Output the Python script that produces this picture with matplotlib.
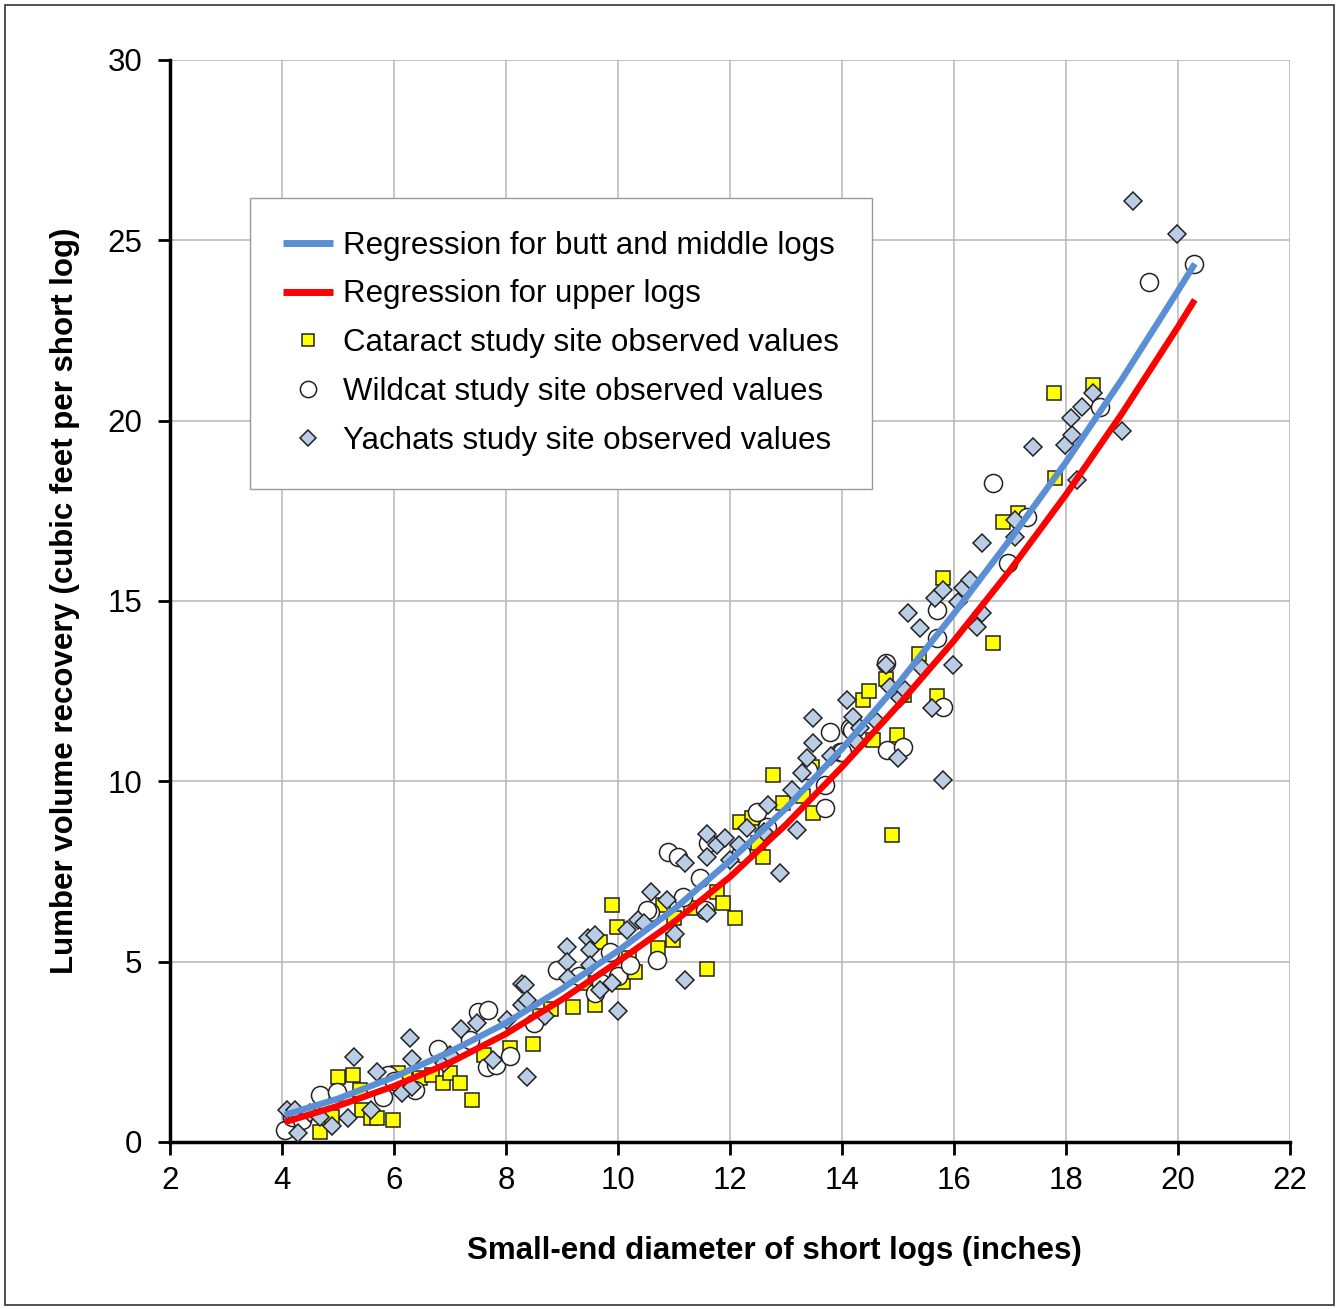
import matplotlib
matplotlib.use("Agg")
import matplotlib.pyplot as plt
from matplotlib.patches import Rectangle

# ── Data ──────────────────────────────────────────────────────────────────────
# regression curves
curve_x = [4.05, 5, 6, 7, 8, 9, 10, 11, 12, 13, 14, 15, 16, 17, 18, 19, 20, 20.3]
butt_middle_y = [0.75, 1.2, 1.8, 2.5, 3.3, 4.25, 5.3, 6.45, 7.8, 9.25, 10.9,
                 12.7, 14.65, 16.7, 18.85, 21.15, 23.6, 24.35]
upper_y = [0.55, 1.0, 1.55, 2.2, 3.0, 3.95, 5.0, 6.1, 7.35, 8.8, 10.4,
           12.1, 13.9, 15.85, 17.95, 20.2, 22.6, 23.35]

# Cataract study site (squares)
cataract_x = [4.89, 4.68, 5.0, 5.27, 5.39, 5.43, 5.59, 5.70, 5.98, 6.07, 6.2,
              6.46, 6.68, 6.88, 7.0, 7.18, 7.39, 7.6, 8.07, 8.48, 8.6, 8.8,
              9.2, 9.4, 9.59, 9.68, 9.89, 9.98, 10.09, 10.2, 10.3, 10.71, 10.8,
              10.98, 11.0, 11.3, 11.59, 11.77, 11.88, 12.09, 12.18, 12.39,
              12.5, 12.59, 12.77, 12.95, 13.3, 13.46, 13.48, 14.38, 14.48,
              14.55, 14.79, 14.89, 14.98, 15.1, 15.38, 15.7, 15.8, 16.7,
              16.88, 17.14, 17.8, 17.79, 18.48]
cataract_y = [0.69, 0.28, 1.8, 1.86, 1.44, 0.89, 0.67, 0.67, 0.61, 1.91, 1.75,
              1.77, 1.86, 1.64, 1.91, 1.64, 1.16, 2.4, 2.61, 2.72, 3.5, 3.7,
              3.74, 4.4, 3.8, 5.54, 6.57, 5.96, 4.44, 5.1, 4.7, 5.38, 6.57,
              5.6, 6.2, 6.5, 4.8, 6.93, 6.63, 6.21, 8.87, 8.98,
              8.3, 7.9, 10.17, 9.4, 9.6, 10.4, 9.12, 12.25, 12.5,
              11.15, 12.84, 8.52, 11.28, 12.4, 13.53, 12.36, 15.64, 13.83,
              17.19, 17.44, 18.41, 20.77, 20.99]

# Wildcat study site (circles)
wildcat_x = [4.05, 4.18, 4.36, 4.68, 4.98, 5.80, 5.89, 6.0, 6.38, 6.79, 7.36,
             7.5, 7.68, 7.66, 7.82, 8.07, 8.5, 8.91, 9.3, 9.59, 9.7, 9.86,
             10.0, 10.21, 10.7, 10.57, 10.52, 10.89, 11.07, 11.46, 11.16,
             11.55, 11.61, 12.2, 12.48, 12.66, 13.4, 13.7, 13.79, 14.14,
             13.96, 13.7, 14.18, 14.0, 14.79, 14.8, 15.09, 15.8, 15.7, 15.7,
             16.7, 16.96, 17.3, 18.61, 19.48, 20.29]
wildcat_y = [0.33, 0.69, 0.61, 1.3, 1.39, 1.25, 1.86, 1.7, 1.45, 2.58, 2.83,
             3.6, 3.66, 2.08, 2.13, 2.38, 3.3, 4.77, 4.6, 4.13, 4.4, 5.27,
             4.6, 4.91, 5.05, 6.38, 6.43, 8.04, 7.9, 7.32, 6.79,
             6.43, 8.29, 8.0, 9.15, 8.73, 10.3, 9.26, 11.37, 11.48,
             10.81, 9.9, 11.42, 10.81, 13.28, 10.87, 10.95, 12.06, 14.75, 13.97,
             18.27, 16.05, 17.33, 20.38, 23.84, 24.34]

# Yachats study site (diamonds)
yachats_x = [4.09, 4.23, 4.29, 4.5, 4.68, 4.89, 5.18, 5.29, 5.59, 5.70, 6.14,
             6.29, 6.32, 6.32, 6.9, 7.0, 7.2, 7.48, 7.77, 8.02, 8.29, 8.29,
             8.38, 8.34, 8.38, 8.7, 9.09, 9.46, 9.59, 9.5, 9.09, 9.11, 9.5,
             9.68, 9.89, 10.0, 10.16, 10.36, 10.46, 10.59, 10.88, 11.02, 11.2,
             11.2, 11.59, 11.77, 11.91, 11.59, 11.59, 12.0, 12.16, 12.3, 12.6,
             12.68, 12.89, 13.2, 13.11, 13.29, 13.38, 13.48, 13.48, 13.8,
             14.09, 14.2, 14.32, 14.29, 14.63, 14.79, 14.86, 15.04, 15.0,
             15.13, 15.43, 15.61, 15.8, 15.98, 15.18, 15.39, 15.66, 15.8,
             16.07, 16.16, 16.29, 16.41, 16.5, 16.5, 17.09, 17.09, 17.41,
             17.98, 18.11, 18.09, 18.29, 18.48, 18.2, 19.0, 19.2, 19.98]
yachats_y = [0.89, 0.89, 0.25, 0.8, 0.69, 0.44, 0.67, 2.36, 0.89, 1.94, 1.36,
             2.88, 2.3, 1.53, 2.2, 2.4, 3.13, 3.3, 2.27, 3.38, 3.8, 4.38,
             1.8, 4.35, 3.94, 3.5, 5.41, 5.66, 5.74, 5.32, 4.99, 4.55, 4.91,
             4.21, 4.41, 3.62, 5.88, 6.15, 6.07, 6.93, 6.71, 5.76, 4.49,
             7.73, 8.55, 8.23, 8.43, 7.9, 6.35, 7.82, 8.23, 8.7, 8.6,
             9.33, 7.46, 8.65, 9.76, 10.23, 10.65, 11.06, 11.75, 10.7,
             12.25, 11.78, 11.48, 11.06, 11.64, 13.22, 12.61, 12.31, 10.65,
             12.53, 13.14, 12.03, 10.04, 13.22, 14.67, 14.25, 15.08, 15.3,
             14.97, 15.36, 15.58, 14.28, 14.67, 16.6, 17.24, 16.77, 19.27,
             19.32, 19.6, 20.07, 20.38, 20.77, 18.35, 19.71, 26.1, 25.17]

x_ticks = [2, 4, 6, 8, 10, 12, 14, 16, 18, 20, 22]
y_ticks = [0, 5, 10, 15, 20, 25, 30]

# ── Style ─────────────────────────────────────────────────────────────────────
plt.rcParams["font.family"] = ["Liberation Sans", "DejaVu Sans"]
FS = 22.5
BLUE = "#5B8FD5"
RED = "#FF0000"

fig = plt.figure(figsize=(13.39, 13.09), dpi=100)
ax = fig.add_axes([0.127, 0.1276, 0.8364, 0.8266])

ax.plot(cataract_x, cataract_y, "s", ms=10, mfc="#FFFF00", mec="#222222",
        mew=1.1, ls="none", zorder=3)
ax.plot(wildcat_x, wildcat_y, "o", ms=13, mfc="white", mec="#222222",
        mew=1.1, ls="none", zorder=3)
ax.plot(yachats_x, yachats_y, "D", ms=9.5, mfc="#B9CDE5", mec="#222222",
        mew=1.1, ls="none", zorder=3)
ax.plot(curve_x, upper_y, color=RED, lw=4.6, zorder=4, solid_capstyle="butt")
ax.plot(curve_x, butt_middle_y, color=BLUE, lw=4.6, zorder=5,
        solid_capstyle="butt")

ax.set_xlim(2, 22)
ax.set_ylim(0, 30)
ax.set_xticks(x_ticks)
ax.set_yticks(y_ticks)
ax.tick_params(labelsize=FS, width=2, length=9, direction="out")
ax.tick_params(axis="x", pad=8)
ax.tick_params(axis="y", pad=11)
ax.grid(True, color="#BBBBBB", lw=1.2)
ax.set_axisbelow(True)
for s in ["top", "right"]:
    ax.spines[s].set_visible(False)
for s in ["left", "bottom"]:
    ax.spines[s].set_linewidth(2.5)

ax.set_xlabel("Small-end diameter of short logs (inches)", fontsize=FS,
              fontweight="bold", labelpad=29)
ax.xaxis.label.set_x(0.54)
ax.set_ylabel("Lumber volume recovery (cubic feet per short log)",
              fontsize=FS, fontweight="bold", labelpad=20)

# legend: lines first, then the three sites
handles = [ax.lines[4], ax.lines[3], ax.lines[0], ax.lines[1], ax.lines[2]]
labels = ["Regression for butt and middle logs", "Regression for upper logs",
          "Cataract study site observed values",
          "Wildcat study site observed values",
          "Yachats study site observed values"]
leg = ax.legend(handles, labels, loc="upper left",
                bbox_to_anchor=(0.0714, 0.8725), fontsize=FS, frameon=True,
                fancybox=False, edgecolor="#999999", framealpha=1,
                handlelength=1.6, handletextpad=0.32, labelspacing=0.6,
                borderpad=1.05, borderaxespad=0, markerscale=0.9)
leg.get_frame().set_linewidth(1.0)
for ln in leg.get_lines()[:2]:
    ln.set_linewidth(5)

# outer frame round the whole figure
fig.patches.append(Rectangle((0.004, 0.003), 0.992, 0.993,
                             transform=fig.transFigure, fill=False,
                             edgecolor="#333333", lw=1.2))

fig.savefig("out.png", dpi=100)
